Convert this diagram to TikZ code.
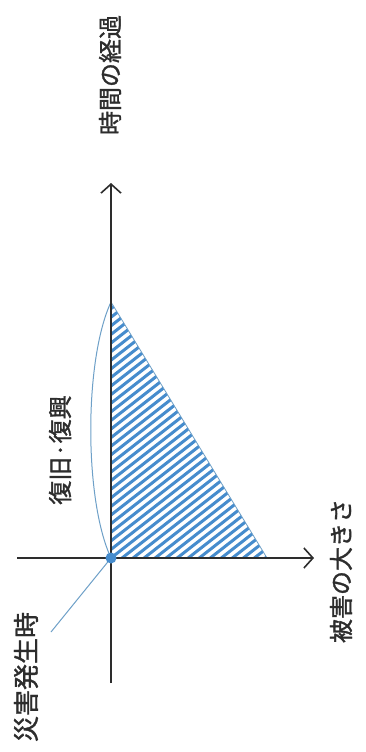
\documentclass[tikz,border=0pt]{standalone}
\usepackage{fontspec}
\newfontfamily\cjk{Noto Sans CJK JP}[FakeBold=1.3]
\usetikzlibrary{arrows.meta}
\definecolor{axisc}{RGB}{45,45,45}
\definecolor{hatchc}{RGB}{70,140,205}
\definecolor{linec}{RGB}{110,160,200}
\tikzset{
  axis/.style={draw=axisc, line width=1.8pt, -{Straight Barb[length=9pt,width=20pt,line width=1.6pt]}},
  lbl/.style={font=\cjk\fontsize{24pt}{28pt}\selectfont, text=axisc, rotate=90, inner sep=0pt},
  thin/.style={draw=linec, line width=1pt},
}
\begin{document}
\begin{tikzpicture}[x=1pt,y=-1pt]
\useasboundingbox (0,0) rectangle (366,752);
\fill[white] (0,0) rectangle (366,752);
\coordinate (O) at (111,558);
\coordinate (A) at (111,302);
\coordinate (B) at (267,558);
\coordinate (Ytip) at (111,183);
\coordinate (Ybot) at (111,683);
\coordinate (Xtip) at (314,558);
\coordinate (Xleft) at (17,558);
\coordinate (D) at (51,632);
% hatching
\begin{scope}
  \clip (O) -- (A) -- (B) -- cycle;
  \foreach \k in {0,...,60} {
    \draw[hatchc, line width=3pt] (100,{300+8.6*\k}) -- ++(300,-234);
  }
\end{scope}
\draw[linec, line width=0.8pt] (A) -- (B);
% curve
\draw[thin] (O) .. controls (84,500) and (84,360) .. (A);
% line to disaster
\draw[thin] (O) -- (D);
% axes
\draw[axis] (Xleft) -- (Xtip);
\draw[axis] (Ybot) -- (Ytip);
\fill[hatchc] (O) circle (5.5);
% labels
\node[lbl] (t1) at (110,75) {時間の経過};
\node[lbl] (t2) at (60,450) {復旧·復興};
\node[lbl] (t3) at (341,571) {被害の大きさ};
\node[lbl, font=\cjk\fontsize{26pt}{30pt}\selectfont] (t4) at (26,677) {災害発生時};
\end{tikzpicture}
\end{document}
